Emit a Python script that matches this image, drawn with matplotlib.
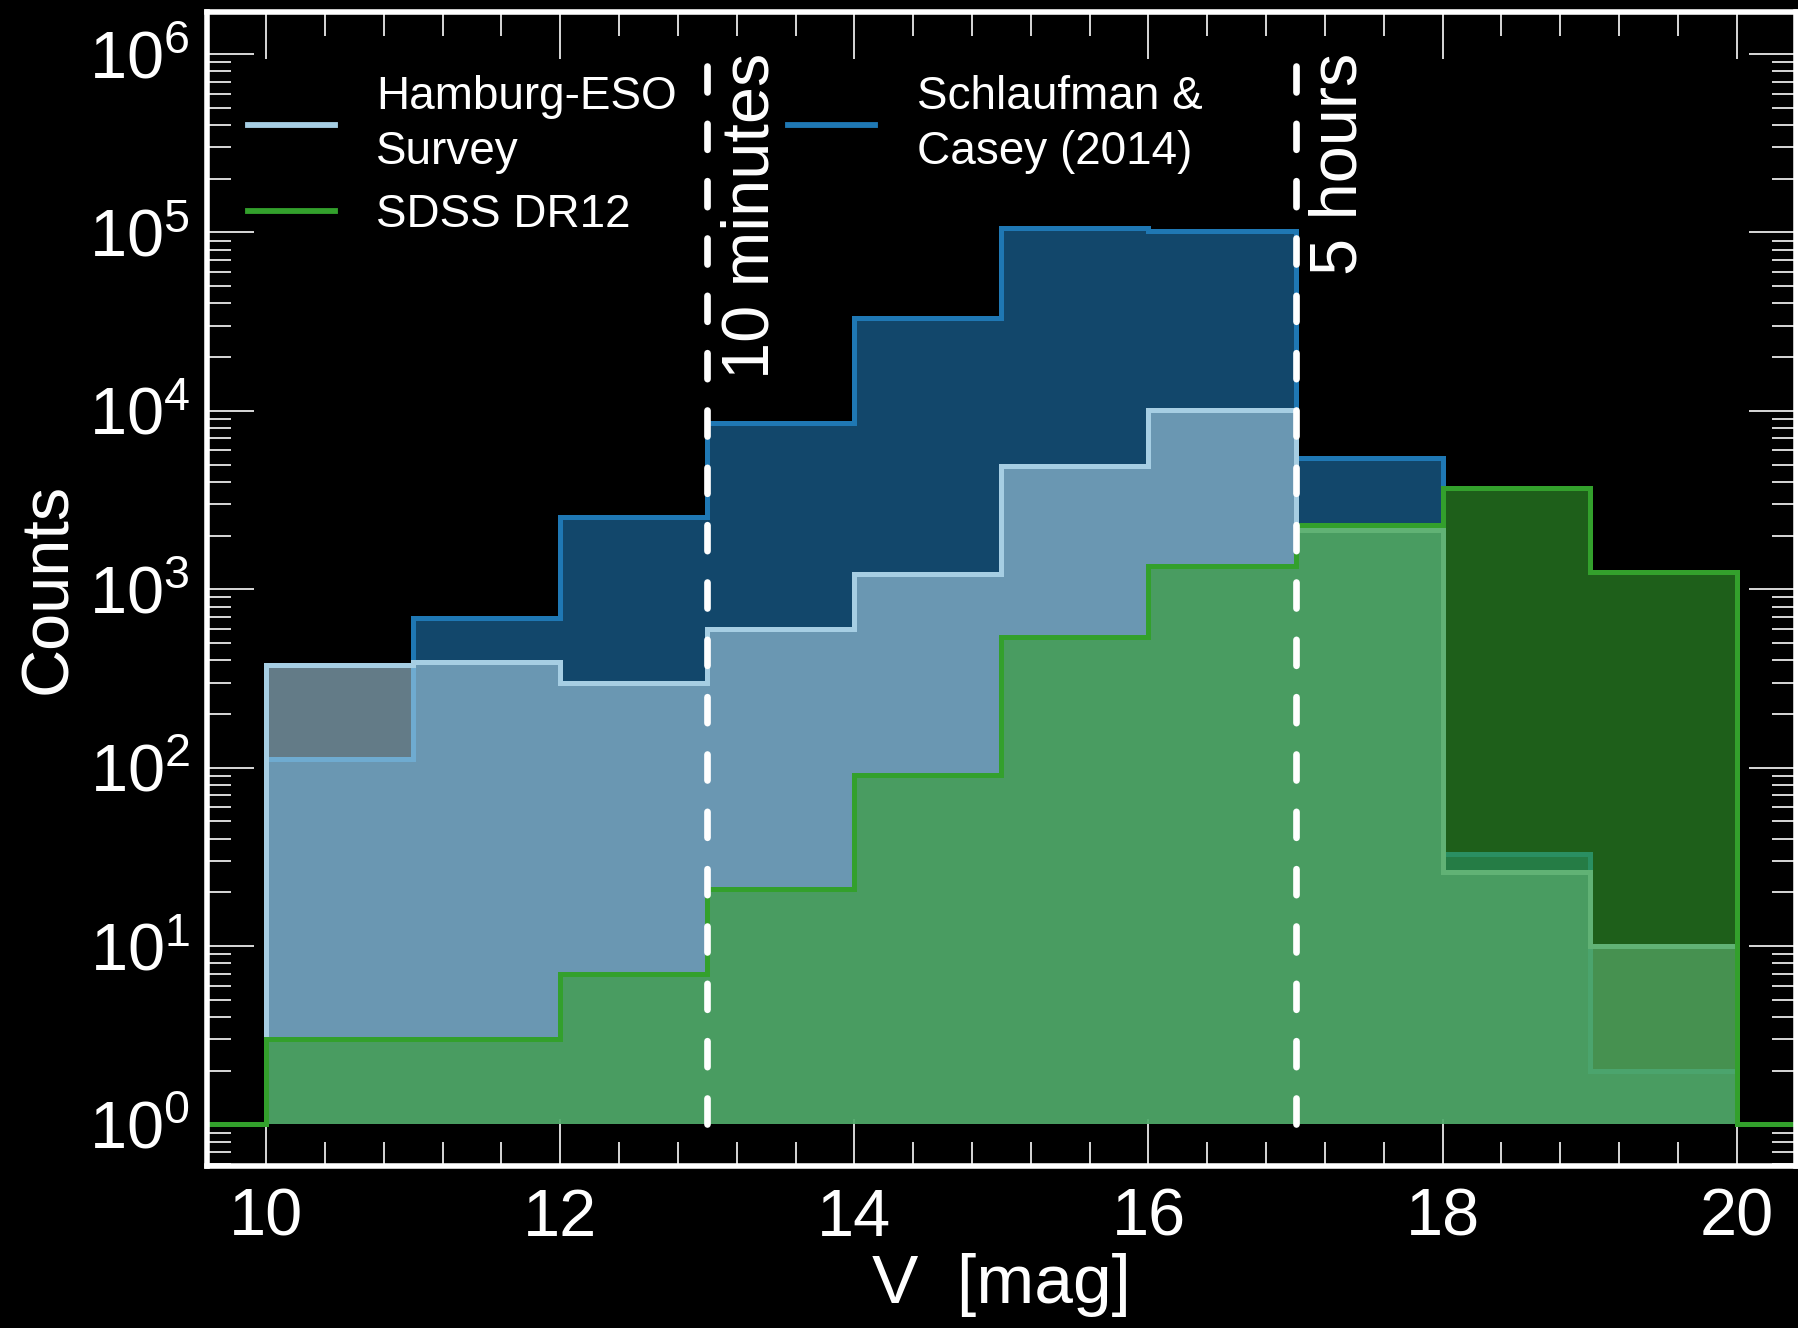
import numpy as np
import matplotlib
matplotlib.use('Agg')
import matplotlib.pyplot as plt
from matplotlib.lines import Line2D
from matplotlib.ticker import AutoMinorLocator, LogLocator, NullFormatter

plt.rcParams['font.family'] = ['Liberation Sans', 'DejaVu Sans']
plt.rcParams['mathtext.fontset'] = 'custom'
plt.rcParams['mathtext.rm'] = 'Liberation Sans'

# histogram bins (V magnitude) and counts per bin
bin_edges = [10, 11, 12, 13, 14, 15, 16, 17, 18, 19, 20]
schlaufman_counts = [112, 686, 2550, 8530, 33000, 106000, 102000, 5410, 33, 2]
hes_counts = [376, 393, 297, 596, 1216, 4900, 10100, 2140, 26, 10]
sdss_counts = [3, 3, 7, 21, 91, 541, 1350, 2300, 3670, 1253]

series_labels = ['Schlaufman &\nCasey (2014)', 'Hamburg-ESO\nSurvey', 'SDSS DR12']
series_colors = ['#1f78b4', '#a6cee3', '#33a02c']

exposure_mags = [13, 17]
exposure_texts = ['10 minutes', '5 hours']
ytick_vals = [1e0, 1e1, 1e2, 1e3, 1e4, 1e5, 1e6]


def main():
    fig = plt.figure(figsize=(17.99, 13.28), dpi=100, facecolor='black')
    ax = fig.add_axes([0.1148, 0.1222, 0.8833, 0.8691], facecolor='black')

    edges = np.array(bin_edges, dtype=float)
    ext_edges = np.concatenate([[edges[0] - 1], edges, [edges[-1] + 1]])
    for counts, color in zip([schlaufman_counts, hes_counts, sdss_counts], series_colors):
        vals = np.array(counts, dtype=float)
        ax.stairs(vals, edges, baseline=1, fill=True, color=color, alpha=0.6, lw=0, zorder=2)
        ax.stairs(np.concatenate([[1], vals, [1]]), ext_edges, baseline=None,
                  color=color, lw=3.6, zorder=2)

    for xm, txt in zip(exposure_mags, exposure_texts):
        ax.plot([xm, xm], [1, 1e6], color='white', lw=4.8, ls=(0, (3.9, 4.7)),
                dash_capstyle='round', zorder=3)
        ax.text(xm + 0.3, 1.02e6, txt, rotation=90, ha='center', va='top',
                color='white', fontsize=48, zorder=4)

    ax.set_yscale('log')
    ax.set_xlim(9.595, 20.4)
    ax.set_ylim(0.587, 1.73e6)
    ax.set_xticks([10, 12, 14, 16, 18, 20])
    ax.xaxis.set_minor_locator(AutoMinorLocator(5))
    ax.set_yticks(ytick_vals)
    ax.yaxis.set_minor_locator(LogLocator(base=10, subs=np.arange(2, 10), numticks=20))
    ax.yaxis.set_minor_formatter(NullFormatter())
    ax.set_ylim(0.587, 1.73e6)

    ax.tick_params(which='both', direction='in', top=True, right=True,
                   color='#d8d8d8', labelcolor='white', labelsize=48)
    ax.tick_params(which='major', length=34, width=1.4)
    ax.tick_params(which='minor', length=17, width=1.4)
    ax.tick_params(axis='x', pad=16)
    ax.tick_params(axis='y', pad=12)
    for sp in ax.spines.values():
        sp.set_color('white')
        sp.set_linewidth(4)
        sp.set_zorder(5)

    ax.set_xlabel('V  [mag]', color='white', fontsize=50, labelpad=2)
    ax.set_ylabel('Counts', color='white', fontsize=48, labelpad=6)

    handles = [Line2D([], [], color=series_colors[1], lw=4.2),
               Line2D([], [], color=series_colors[2], lw=4.2),
               Line2D([], [], color=series_colors[0], lw=4.2)]
    labels = [series_labels[1], series_labels[2], series_labels[0]]
    leg = ax.legend(handles, labels, ncol=2, loc='upper left', bbox_to_anchor=(0.026, 0.945),
                    frameon=False, fontsize=33, handlelength=1.9, handletextpad=0.9,
                    columnspacing=2.43, labelspacing=0.42, borderpad=0, borderaxespad=0)
    for t in leg.get_texts():
        t.set_color('white')
        t.set_linespacing(1.32)

    fig.savefig('out.png', dpi=100, facecolor='black')


if __name__ == '__main__':
    main()
